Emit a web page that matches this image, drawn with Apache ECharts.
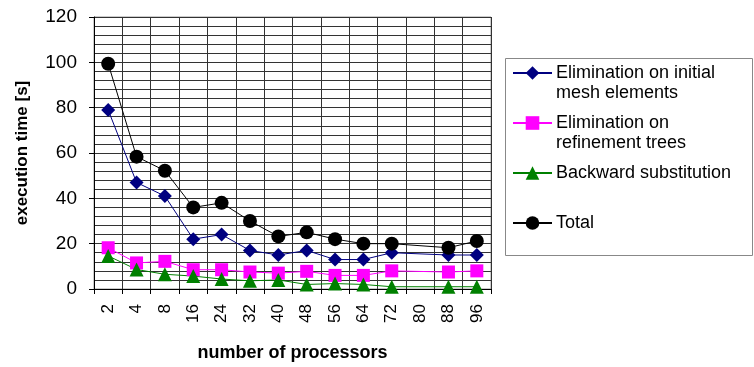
<!DOCTYPE html>
<html><head><meta charset="utf-8">
<script src="https://cdn.jsdelivr.net/npm/echarts@6/dist/echarts.min.js"></script>
<style>html,body{margin:0;padding:0;background:#fff}#c{width:754px;height:367px}</style>
</head><body><div id="c"></div>
<script>
const categories = ['2','4','8','16','24','32','40','48','56','64','72','80','88','96'];
const initialMesh = [79,47,41,22,24,17,15,17,13,13,16,null,15,15];
const refinement = [18.2,11.5,12.2,8.5,8.5,7.5,7,7.8,6,6,8,null,7.5,8];
const backward = [14.6,8.6,6.5,5.7,4.4,3.6,4,2,2.4,2,1,null,1,1];
const total = [99.4,58.4,52.2,36,38,30,23.2,25,22,20,20,null,18.2,21.2];
const yTicks = [0,20,40,60,80,100,120];

const names = ['Elimination on initial mesh elements','Elimination on refinement trees','Backward substitution','Total'];
const legendText = {
  'Elimination on initial mesh elements':'Elimination on initial\nmesh elements',
  'Elimination on refinement trees':'Elimination on\nrefinement trees',
  'Backward substitution':'Backward substitution\n ',
  'Total':'Total\n '
};
const FONT = 'Liberation Sans, Arial, sans-serif';
const chart = echarts.init(document.getElementById('c'), null, {renderer:'canvas'});
function mk(name, data, color, symbol, size){
  return {name, type:'line', data, connectNulls:true, symbol, symbolSize:size,
    lineStyle:{color, width:1}, itemStyle:{color, borderWidth:0}, showSymbol:true, animation:false};
}
chart.setOption({
  animation:false,
  grid:{left:94, right:263, top:17, bottom:70, show:true, borderColor:'#999', borderWidth:1},
  xAxis:{type:'category', data:categories, boundaryGap:true,
    name:'number of processors', nameLocation:'middle', nameGap:55,
    nameTextStyle:{fontFamily:FONT, fontSize:18, fontWeight:'bold', color:'#000'},
    axisLine:{lineStyle:{color:'#000', width:1}},
    axisTick:{show:true, interval:0, length:5, lineStyle:{color:'#000'}},
    axisLabel:{rotate:90, interval:0, margin:15, fontFamily:FONT, fontSize:17, color:'#000'},
    splitLine:{show:true, interval:0, lineStyle:{color:'#333', width:1}}
  },
  yAxis:{type:'value', min:yTicks[0], max:yTicks[yTicks.length-1], interval:20,
    name:'execution time [s]', nameLocation:'middle', nameGap:63,
    nameTextStyle:{fontFamily:FONT, fontSize:17, fontWeight:'bold', color:'#000'},
    axisLine:{show:true, lineStyle:{color:'#000', width:1}},
    axisTick:{show:true, length:5, lineStyle:{color:'#000'}},
    axisLabel:{margin:17, fontFamily:FONT, fontSize:19, color:'#000'},
    splitLine:{show:true, lineStyle:{color:'#333', width:1}},
    minorTick:{show:false, splitNumber:5},
    minorSplitLine:{show:true, lineStyle:{color:'#333', width:1}}
  },
  legend:{orient:'vertical', left:512, top:43, padding:0, itemWidth:39, itemHeight:17, itemGap:-10,
    data:names, formatter:n=>'\n'+legendText[n],
    textStyle:{fontFamily:FONT, fontSize:18, color:'#000', lineHeight:20, padding:[0,0,0,-1]}
  },
  graphic:[{type:'rect', shape:{x:505.5, y:58.5, width:247, height:197}, style:{fill:null, stroke:'#888', lineWidth:1}, z:-1}],
  series:[
    mk(names[0], initialMesh, '#000080', 'diamond', 14),
    mk(names[1], refinement, '#FF00FF', 'rect', 13),
    mk(names[2], backward, '#008000', 'triangle', 14),
    mk(names[3], total, '#000000', 'circle', 14)
  ]
});
</script></body></html>
